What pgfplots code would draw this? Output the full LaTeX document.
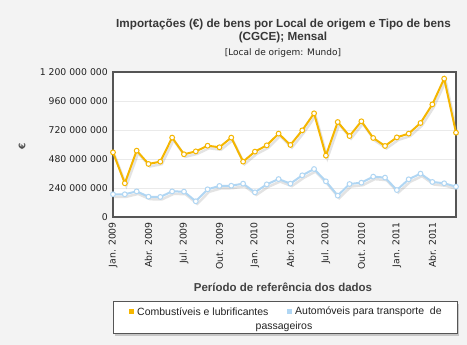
\documentclass[border=0pt]{standalone}
\usepackage{fontspec}
\setmainfont{DejaVu Sans}
\newfontfamily\arialfont{Liberation Sans}
\usepackage{pgfplots}
\pgfplotsset{compat=1.18}
\definecolor{bgcol}{RGB}{243,243,243}
\definecolor{axcol}{RGB}{85,85,85}
\definecolor{gridcol}{RGB}{234,234,234}
\definecolor{ycol}{RGB}{245,182,0}
\definecolor{bcol}{RGB}{176,214,243}
\definecolor{txt}{RGB}{34,34,34}
\pgfplotstableread{
i comb auto
0 535 188
1 279 188
2 549 212
3 439 168
4 458 166
5 657 212
6 519 210
7 543 130
8 590 229
9 577 257
10 657 259
11 458 276
12 541 204
13 593 270
14 690 314
15 596 276
16 717 345
17 858 397
18 508 295
19 786 177
20 670 273
21 792 284
22 654 334
23 588 326
24 659 223
25 690 312
26 778 359
27 932 290
28 1145 279
29 698 251
}\datatable
\begin{document}
\begin{tikzpicture}[x=1pt,y=1pt]
\fill[bgcol] (0,0) rectangle (467,345);
\useasboundingbox (0,0) rectangle (467,345);
\begin{axis}[
  at={(113pt,128pt)}, anchor=origin,
  scale only axis, width=343pt, height=145pt,
  xmin=0, xmax=29, ymin=0, ymax=1200,
  axis background/.style={fill=white},
  axis line style={draw=axcol, line width=2pt},
  major tick length=0pt,
  ytick={0,240,480,720,960,1200},
  yticklabels={\mbox{0},\mbox{240 000 000},\mbox{480 000 000},\mbox{720 000 000},\mbox{960 000 000},\mbox{1 200 000 000}},
  xtick={0,3,...,27},
  xticklabels={\mbox{Jan. 2009},\mbox{Abr. 2009},\mbox{Jul. 2009},\mbox{Out. 2009},\mbox{Jan. 2010},\mbox{Abr. 2010},\mbox{Jul. 2010},\mbox{Out. 2010},\mbox{Jan. 2011},\mbox{Abr. 2011}},
  tick label style={font=\fontsize{9.3}{11}\selectfont, text=txt, inner sep=0pt},
  xticklabel style={rotate=90, anchor=east},
  xticklabel shift=5pt,
  yticklabel shift=5pt,
  ymajorgrids, grid style={draw=gridcol, line width=0.8pt},
  clip=false,
]
\addplot[gray, opacity=0.22, line width=2.5pt, transform canvas={xshift=1.5pt,yshift=-2.5pt}] table[x=i,y=comb]{\datatable};
\addplot[gray, opacity=0.22, line width=2.5pt, transform canvas={xshift=1.5pt,yshift=-2.5pt}] table[x=i,y=auto]{\datatable};
\addplot[bcol, line width=2pt, mark=*, mark size=2.4pt, mark options={fill=white, draw=bcol, line width=1pt}] table[x=i,y=auto]{\datatable};
\addplot[ycol, line width=2pt, mark=*, mark size=2.4pt, mark options={fill=white, draw=ycol, line width=1pt}] table[x=i,y=comb]{\datatable};
\end{axis}
% titles
\node[font=\arialfont\bfseries\fontsize{11.7}{13}\selectfont, text=txt!90] at (283.5,320) {Importações (€) de bens por Local de origem e Tipo de bens};
\node[font=\arialfont\bfseries\fontsize{11.7}{13}\selectfont, text=txt!90] at (283,307.3) {(CGCE); Mensal};
\node[font=\fontsize{9}{10}\selectfont, text=txt] at (283,291.7) {[Local de origem: Mundo]};
\node[font=\bfseries\fontsize{9}{11}\selectfont, text=txt!80, rotate=90] at (22,199) {€};
\node[font=\arialfont\bfseries\fontsize{11.5}{12}\selectfont, text=txt!85] at (283,57.3) {Período de referência dos dados};
% legend
\fill[gray!45] (115,9) rectangle (459,41);
\filldraw[fill=white, draw=axcol, line width=1pt] (113,11) rectangle (457,43);
\fill[ycol] (128.5,30.5) rectangle (133.5,35.5);
\node[anchor=west, font=\arialfont\fontsize{10.5}{12}\selectfont, text=txt, inner sep=0pt] at (137,33.3) {Combustíveis e lubrificantes};
\fill[bcol] (286.5,30.5) rectangle (291.5,35.5);
\node[anchor=west, font=\arialfont\fontsize{10.5}{12}\selectfont, text=txt, inner sep=0pt] at (295,33.3) {Automóveis para transporte~ de};
\node[font=\arialfont\fontsize{10.5}{12}\selectfont, text=txt, inner sep=0pt] at (284,18.3) {passageiros};
\end{tikzpicture}
\end{document}
